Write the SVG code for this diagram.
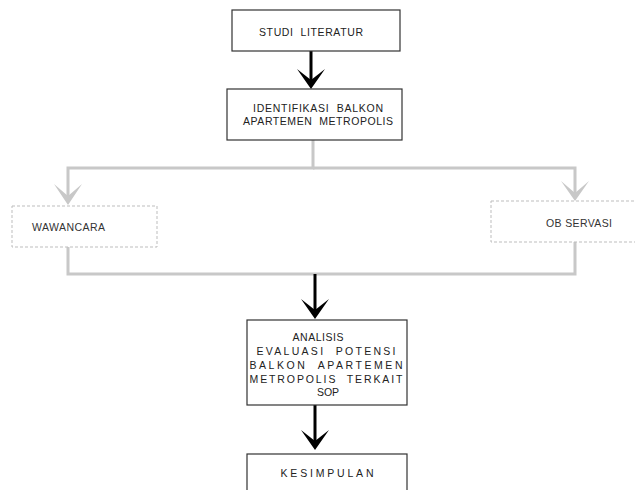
<svg xmlns="http://www.w3.org/2000/svg" width="635" height="490" viewBox="0 0 635 490">
<style>
.box{fill:#fff;stroke:#333;stroke-width:1.2}
.dbox{fill:#fff;stroke:#bdbdbd;stroke-width:1;stroke-dasharray:3 2}
.t{font-family:"Liberation Sans",Arial,sans-serif;font-size:10.5px;fill:#222;white-space:pre}
.g{fill:none;stroke:#c8c8c8;stroke-width:3}
.b{fill:none;stroke:#000;stroke-width:3}
.gh{fill:#c8c8c8}
.bh{fill:#000}
</style>
<rect width="635" height="490" fill="#fff"/>
<g id="connectors">
<line class="b" x1="311" y1="51" x2="311" y2="84"/>
<polygon class="bh" points="297,69 311,80 325,69 311,89"/>
<polyline class="g" points="313,140 313,168 68,168 68,198"/>
<polyline class="g" points="313,168 575,168 575,194"/>
<polygon class="gh" points="54,184 68,196 82,184 68,205"/>
<polygon class="gh" points="561,181 575,193 589,181 575,201"/>
<polyline class="g" points="68,247 68,274 575,274 575,242"/>
<line class="b" x1="315" y1="274" x2="315" y2="313"/>
<polygon class="bh" points="301,299 315,310 329,299 315,319"/>
<line class="b" x1="315" y1="405" x2="315" y2="444"/>
<polygon class="bh" points="301,430 315,441 329,430 315,450"/>
</g>
<g id="studi">
<rect class="box" x="232" y="10" width="168" height="41"/>
<text class="t" x="311" y="36" text-anchor="middle" textLength="104" lengthAdjust="spacing" xml:space="preserve">STUDI  LITERATUR</text>
</g>
<g id="identifikasi">
<rect class="box" x="227" y="89" width="175" height="51"/>
<text class="t" x="318" y="112" text-anchor="middle" textLength="130" lengthAdjust="spacing" xml:space="preserve">IDENTIFIKASI  BALKON</text>
<text class="t" x="318" y="125" text-anchor="middle" textLength="150" lengthAdjust="spacing" xml:space="preserve">APARTEMEN  METROPOLIS</text>
</g>
<g id="wawancara">
<rect class="dbox" x="12" y="206" width="145" height="41"/>
<text class="t" x="32" y="231" textLength="73" lengthAdjust="spacing" style="fill:#333">WAWANCARA</text>
</g>
<g id="observasi">
<rect class="dbox" x="491" y="201" width="150" height="41"/>
<text class="t" x="546" y="227" textLength="66" lengthAdjust="spacing" style="fill:#333">OB SERVASI</text>
</g>
<g id="analisis">
<rect class="box" x="247" y="320" width="160" height="85"/>
<text class="t" x="318" y="341" text-anchor="middle" textLength="51" lengthAdjust="spacing">ANALISIS</text>
<text class="t" x="326" y="355" text-anchor="middle" textLength="139" lengthAdjust="spacing" xml:space="preserve">EVALUASI  POTENSI</text>
<text class="t" x="326" y="369" text-anchor="middle" textLength="153" lengthAdjust="spacing" xml:space="preserve">BALKON  APARTEMEN</text>
<text class="t" x="326" y="383" text-anchor="middle" textLength="153" lengthAdjust="spacing" xml:space="preserve">METROPOLIS  TERKAIT</text>
<text class="t" x="328" y="396" text-anchor="middle" textLength="22" lengthAdjust="spacing">SOP</text>
</g>
<g id="kesimpulan">
<rect class="box" x="247" y="454" width="160" height="45"/>
<text class="t" x="327" y="477" text-anchor="middle" textLength="93" lengthAdjust="spacing">KESIMPULAN</text>
</g>
</svg>
